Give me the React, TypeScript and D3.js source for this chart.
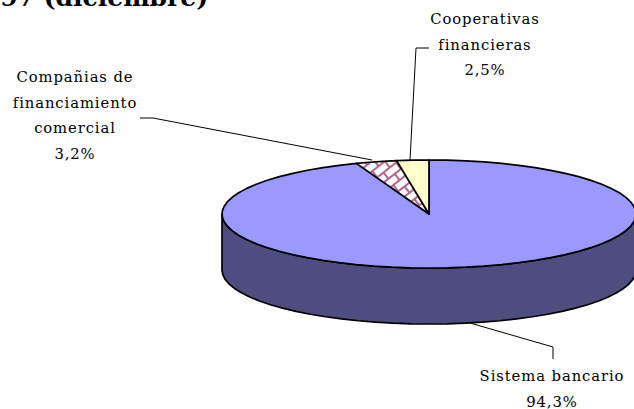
import * as d3 from 'd3';

// Chart values
const categories: string[] = ['Sistema bancario', 'Compañias de financiamiento comercial', 'Cooperativas financieras'];
const shares: number[] = [94.3, 3.2, 2.5];
const sliceColors: string[] = ['#9999ff', 'url(#hatch)', '#ffffcc'];
const labelLines: string[][] = [
  ['Sistema bancario', '94,3%'],
  ['Compañias de', 'financiamiento', 'comercial', '3,2%'],
  ['Cooperativas', 'financieras', '2,5%'],
];
const titleText = '1997 (diciembre)';

const width = 634;
const height = 409;
const cx = 429;
const cy = 214;
const rx = 207;
const ry = 54;
const depth = 56;
const serif = '"DejaVu Serif", serif';

// pie runs clockwise from 12 o'clock
const pie = d3.pie<number>().sort(null).startAngle(0).endAngle(2 * Math.PI);
const arcs = pie(shares);

const xScale = d3.scaleLinear().domain([-1, 1]).range([cx - rx, cx + rx]);
const yScale = d3.scaleLinear().domain([-1, 1]).range([cy - ry, cy + ry]);

const point = (a: number): [number, number] => [xScale(Math.sin(a)), yScale(-Math.cos(a))];

const line = d3.line();

function slicePath(start: number, end: number) {
  const n = Math.max(2, Math.ceil((end - start) / 0.09));
  const rim = d3.range(n + 1).map((i) => point(start + ((end - start) * i) / n));
  return line([[xScale(0), yScale(0)], ...rim]) + 'Z';
}

// front wall: lower half of the ellipse, dropped by the depth
function wallPath() {
  const angles = d3.range(0, 36.001).map((i) => Math.PI / 2 + (Math.PI * i) / 36);
  const top = angles.map(point);
  const bottom = top.map(([x, y]) => [x, y + depth] as [number, number]).reverse();
  return line([...top, ...bottom]) + 'Z';
}

// Leaders go from the label to the slice edge
const leaders: [number, number][][] = [
  [[470, 323], [553, 347], [553, 359]],
  [[140, 118], [153, 118], [372, 160]],
  [[410, 160], [416, 48], [429, 48]],
];
const labelPos: { x: number; y: number }[] = [
  { x: 552, y: 381 },
  { x: 75, y: 82 },
  { x: 485, y: 24 },
];

export default function App() {
  return (
    <svg
      width={width}
      height={height}
      style={{ position: 'absolute', left: 0, top: 0 }}
      fontFamily={serif}
    >
      <defs>
        <pattern id="hatch" width="16" height="16" patternUnits="userSpaceOnUse" patternTransform="rotate(-38)">
          <rect width="16" height="16" fill="#ffffff" />
          <path d="M0 4H16M0 12H16M4 4V12M12 12V16M12 0V4" stroke="#b5648c" strokeWidth="2" fill="none" />
        </pattern>
      </defs>
      <text x={208} y={6} textAnchor="end" fontSize={25} fontWeight="bold" fill="#000">
        {titleText}
      </text>
      <path d={wallPath()} fill="#4d4d80" stroke="#000" strokeWidth={1.7} strokeLinejoin="round" />
      {arcs.map((d, i) => (
        <path
          key={categories[i]}
          d={slicePath(d.startAngle, d.endAngle)}
          fill={sliceColors[i]}
          stroke="#000"
          strokeWidth={1.7}
          strokeLinejoin="round"
        />
      ))}
      {leaders.map((pts, i) => (
        <path key={i} d={line(pts) ?? ''} fill="none" stroke="#000" strokeWidth={1} />
      ))}
      {labelLines.map((lines, i) => (
        <text key={i} textAnchor="middle" fontSize={14.8} letterSpacing={0.9} fill="#000">
          {lines.map((t, j) => (
            <tspan key={t} x={labelPos[i].x} y={labelPos[i].y + j * 25.7}>
              {t}
            </tspan>
          ))}
        </text>
      ))}
    </svg>
  );
}
